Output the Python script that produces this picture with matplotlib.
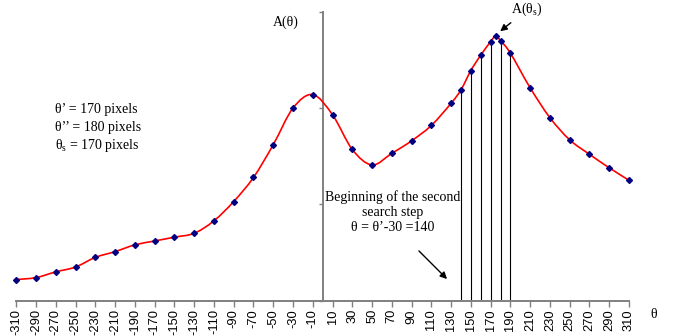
import numpy as np
import matplotlib.pyplot as plt
from matplotlib.path import Path
from matplotlib.patches import PathPatch

plt.rcParams['mathtext.fontset'] = 'custom'
plt.rcParams['mathtext.rm'] = 'Liberation Serif'
plt.rcParams['mathtext.it'] = 'Liberation Serif'

# angle (pixels) and amplitude
theta = [-310, -290, -270, -250, -230, -210, -190, -170, -150, -130,
         -110, -90, -70, -50, -30, -10, 10, 30, 50, 70, 90, 110, 130,
         140, 150, 160, 170, 175, 180, 190, 210, 230, 250, 270, 290, 310]
amp = [0.22, 0.24, 0.30, 0.35, 0.45, 0.51, 0.58, 0.62, 0.66, 0.70,
       0.83, 1.03, 1.28, 1.62, 2.00, 2.14, 1.93, 1.57, 1.41, 1.53, 1.66,
       1.82, 2.05, 2.19, 2.39, 2.55, 2.69, 2.75, 2.70, 2.57, 2.21, 1.90,
       1.67, 1.52, 1.38, 1.25]
# second search step, drawn as drop lines
step_theta = [140, 150, 160, 170, 180, 190]
xticks = list(range(-310, 311, 20))

fig = plt.figure(figsize=(6.8, 3.36), dpi=100)
ax = fig.add_axes([0.024, 0.105, 0.901, 0.860])
ax.set_xlim(-310, 310)
ax.set_ylim(0, 3)

# smoothed line through the points (Excel-like bezier)
pts = np.column_stack([theta, amp]).astype(float)
verts = [pts[0]]
codes = [Path.MOVETO]
n = len(pts)
for i in range(n - 1):
    p0 = pts[max(i - 1, 0)]
    p1 = pts[i]
    p2 = pts[i + 1]
    p3 = pts[min(i + 2, n - 1)]
    verts += [p1 + (p2 - p0) / 6, p2 - (p3 - p1) / 6, p2]
    codes += [Path.CURVE4] * 3
ax.add_patch(PathPatch(Path(verts, codes), fill=False, ec='red', lw=1.2, zorder=3))

ax.plot(theta, amp, ls='none', marker='D', ms=3.0, color='#000080',
        zorder=4, clip_on=False)

step_amp = [amp[theta.index(t)] for t in step_theta]
ax.vlines(step_theta, 0, step_amp, color='black', lw=0.8, zorder=2)

# axes styling
for s in ['top', 'right']:
    ax.spines[s].set_visible(False)
ax.spines['left'].set_position(('data', 0))
ax.spines['left'].set_color('#808080')
ax.spines['left'].set_linewidth(1.4)
ax.spines['bottom'].set_color('#808080')
ax.spines['bottom'].set_linewidth(1.4)
ax.set_xticks(xticks)
ax.set_xticklabels([str(t) for t in xticks], rotation=90,
                   fontsize=9.3, family='Liberation Sans')
ax.tick_params(axis='x', length=4, width=1, color='#808080', pad=2)
ax.set_yticks([0, 1, 2, 3])
ax.set_yticklabels([])
ax.tick_params(axis='y', length=3, width=1, color='#808080')

serif = dict(family='Liberation Serif', fontsize=10)
fig.text(273 / 680, 1 - 22 / 336, 'A(\u03b8)', va='center', ha='left', **serif)
fig.text(650 / 680, 1 - 315 / 336, '\u03b8', va='center', ha='left', **serif)
fig.text(55 / 680, 1 - 110 / 336, '\u03b8\u2019 = 170 pixels', va='center', ha='left', **serif)
fig.text(55 / 680, 1 - 128 / 336, '\u03b8\u2019\u2019 = 180 pixels', va='center', ha='left', **serif)
fig.text(55 / 680, 1 - 146 / 336, '\u03b8$_{\\mathrm{s}}$ = 170 pixels', va='center', ha='left', **serif)
fig.text(393 / 680, 1 - 212 / 336,
         'Beginning of the second\nsearch step\n\u03b8 = \u03b8\u2019-30 =140',
         va='center', ha='center', linespacing=1.2, **serif)
fig.text(527 / 680, 1 - 9 / 336, 'A(\u03b8$_{\\mathrm{s}}$)', va='center', ha='center', **serif)

arrow = dict(arrowstyle='-|>', color='black', lw=1.0, mutation_scale=10)
ax.annotate('', xy=(498 / 680, 1 - 33 / 336), xytext=(513 / 680, 1 - 21 / 336),
            xycoords='figure fraction', textcoords='figure fraction', arrowprops=arrow)
ax.annotate('', xy=(449 / 680, 1 - 281 / 336), xytext=(417 / 680, 1 - 249 / 336),
            xycoords='figure fraction', textcoords='figure fraction', arrowprops=arrow)

fig.savefig('out.png', dpi=100)
